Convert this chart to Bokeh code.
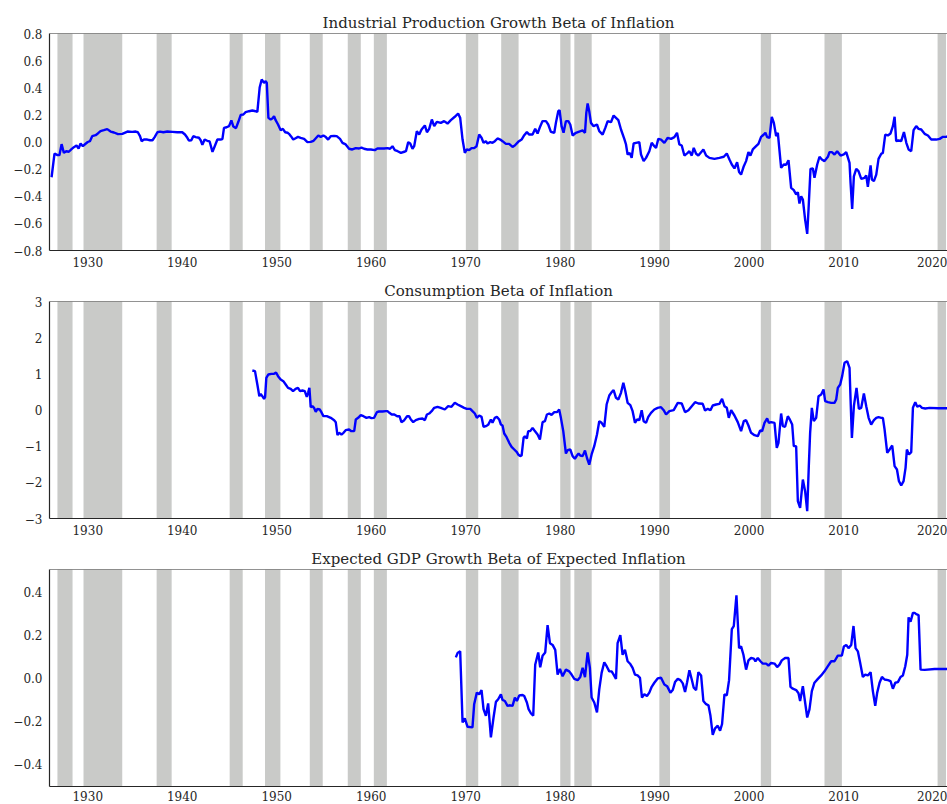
from bokeh.plotting import figure
from bokeh.layouts import column
from bokeh.models import Range1d, FixedTicker, CustomJSTickFormatter, Span
from bokeh.embed import file_html
from bokeh.resources import INLINE

# ---------------- data ----------------
x_lim = [1925.95, 2021.0]
x_ticks = [1930, 1940, 1950, 1960, 1970, 1980, 1990, 2000, 2010, 2020]

rec_start = [1926.79, 1929.55, 1937.29, 1945.02, 1948.76, 1953.50, 1957.52, 1960.28,
             1970.02, 1973.76, 1980.01, 1981.50, 1990.50, 2001.24, 2007.98, 2019.95]
rec_end = [1928.39, 1933.65, 1938.88, 1946.40, 1950.39, 1954.87, 1958.90, 1961.66,
           1971.33, 1975.60, 1981.10, 1983.34, 1991.63, 2002.33, 2009.82, 2020.84]

ip_year = [1926.17, 1926.48, 1926.8, 1927.0, 1927.23, 1927.47, 1927.72, 1928.0, 1928.25, 1928.53,
           1928.81, 1929.03, 1929.24, 1929.48, 1929.77, 1930.0, 1930.23, 1930.47, 1930.83, 1931.07,
           1931.35, 1931.7, 1932.06, 1932.42, 1932.77, 1933.2, 1933.66, 1934.2, 1934.7, 1935.07,
           1935.3, 1935.53, 1935.7, 1935.95, 1936.3, 1936.6, 1936.85, 1937.08, 1937.37, 1937.65,
           1938.0, 1938.42, 1938.95, 1939.48, 1940.0, 1940.29, 1940.54, 1940.7, 1940.96, 1941.17,
           1941.42, 1941.77, 1941.95, 1942.13, 1942.37, 1942.65, 1942.9, 1943.2, 1943.44, 1943.72,
           1944.07, 1944.25, 1944.42, 1944.7, 1944.95, 1945.2, 1945.41, 1945.69, 1945.94, 1946.19,
           1946.47, 1946.71, 1947.07, 1947.42, 1947.77, 1947.95, 1948.2, 1948.41, 1948.66, 1948.83,
           1948.95, 1949.12, 1949.36, 1949.54, 1949.72, 1949.9, 1950.14, 1950.42, 1950.65, 1950.9,
           1951.15, 1951.3, 1951.5, 1951.75, 1952.0, 1952.25, 1952.53, 1952.9, 1953.25, 1953.6,
           1953.9, 1954.14, 1954.4, 1954.66, 1954.94, 1955.2, 1955.44, 1955.72, 1956.07, 1956.35,
           1956.7, 1956.96, 1957.3, 1957.66, 1958.0, 1958.37, 1958.72, 1958.97, 1959.25, 1959.6,
           1959.96, 1960.38, 1960.66, 1961.0, 1961.37, 1961.72, 1962.0, 1962.25, 1962.5, 1962.8,
           1963.15, 1963.5, 1963.68, 1963.92, 1964.13, 1964.37, 1964.55, 1964.83, 1965.08, 1965.33,
           1965.68, 1965.9, 1966.14, 1966.42, 1966.67, 1966.95,
           1967.37, 1967.72, 1968.08, 1968.43, 1968.85, 1969.2, 1969.42, 1969.67, 1969.91, 1970.12,
           1970.37, 1970.62, 1970.9, 1971.15, 1971.43, 1971.68, 1971.89, 1972.14, 1972.31, 1972.6,
           1972.84, 1973.09, 1973.37, 1973.66, 1973.9, 1974.26, 1974.6, 1974.96, 1975.2, 1975.56,
           1975.92, 1976.2, 1976.48, 1976.73, 1977.08, 1977.36, 1977.61, 1977.9, 1978.14, 1978.5,
           1978.74, 1979.02, 1979.38, 1979.55, 1979.8, 1979.94, 1980.15, 1980.36, 1980.61, 1980.86,
           1981.07, 1981.32, 1981.67, 1982.02, 1982.38, 1982.63, 1982.77, 1982.91, 1983.08, 1983.26,
           1983.54, 1983.9, 1984.14, 1984.5, 1984.78, 1985.03, 1985.38, 1985.66, 1985.91, 1986.16,
           1986.44, 1986.79, 1986.97, 1987.14, 1987.36, 1987.57, 1987.78, 1988.03, 1988.38, 1988.56,
           1988.84, 1989.09, 1989.44, 1989.69, 1989.97, 1990.15, 1990.39,
           1990.68, 1991.03, 1991.39, 1991.74, 1992.09, 1992.37, 1992.62, 1992.87, 1993.15, 1993.5,
           1993.68, 1993.93, 1994.14, 1994.39, 1994.63, 1994.92, 1995.16, 1995.45, 1995.8, 1996.33,
           1996.86, 1997.32, 1997.64, 1997.92, 1998.17, 1998.45, 1998.73, 1998.94, 1999.15, 1999.44,
           1999.68, 1999.93, 2000.14, 2000.39, 2000.74, 2000.99, 2001.27, 2001.56, 2001.73, 2001.91,
           2002.16, 2002.4, 2002.62, 2002.86, 2003.04, 2003.39, 2003.67, 2003.92, 2004.17, 2004.45,
           2004.73, 2004.98, 2005.16, 2005.33, 2005.51, 2005.69, 2005.93, 2006.15, 2006.29, 2006.5,
           2006.75, 2006.92, 2007.21, 2007.45, 2007.7, 2007.98, 2008.34, 2008.51, 2008.76, 2009.04,
           2009.32, 2009.68, 2010.03, 2010.28, 2010.63, 2010.74, 2010.91, 2011.09, 2011.34, 2011.58,
           2011.87, 2012.22, 2012.4, 2012.57, 2012.86, 2013.0, 2013.21, 2013.46, 2013.7, 2013.99,
           2014.16, 2014.41, 2014.69, 2014.97, 2015.22, 2015.4, 2015.57, 2015.82, 2016.1, 2016.39,
           2016.64, 2016.88, 2017.16, 2017.41, 2017.69, 2017.94, 2018.22, 2018.58, 2018.93, 2019.28,
           2019.81, 2020.17, 2020.52, 2020.87, 2021.08]
ip_beta = [-0.26, -0.085, -0.097, -0.097, -0.016, -0.08, -0.068, -0.072, -0.055, -0.038,
           -0.026, -0.048, -0.011, -0.031, -0.013, 0.0, 0.006, 0.043, 0.05, 0.063,
           0.08, 0.087, 0.095, 0.077, 0.07, 0.058, 0.06, 0.077, 0.075, 0.077,
           0.072, 0.043, 0.006, 0.018, 0.018, 0.013, 0.013, 0.036, 0.072, 0.077,
           0.072, 0.077, 0.075, 0.072, 0.072, 0.055, 0.031, 0.011, 0.013, 0.043,
           0.036, 0.031, 0.013, -0.021, 0.018, 0.009, 0.004, -0.073, -0.031, 0.018,
           0.018, 0.021, 0.104, 0.109, 0.117, 0.159, 0.114, 0.102, 0.149, 0.2,
           0.203, 0.22, 0.227, 0.232, 0.227, 0.222, 0.404, 0.461, 0.436, 0.449,
           0.436, 0.178, 0.166, 0.173, 0.19, 0.159, 0.129, 0.087, 0.097, 0.072,
           0.068, 0.06, 0.043, 0.018, 0.028, 0.038, 0.031, 0.023, -0.001, 0.001,
           0.009, 0.028, 0.048, 0.038, 0.048, 0.036, 0.018, 0.043, 0.045, 0.043,
           0.023, -0.006, -0.018, -0.05, -0.055, -0.045, -0.048, -0.041, -0.05, -0.055,
           -0.055, -0.06, -0.048, -0.048, -0.048, -0.045, -0.05, -0.031, -0.06, -0.068,
           -0.08, -0.072, -0.068, -0.001, -0.011, -0.05, -0.031, 0.08, 0.055, 0.092,
           0.122, 0.072, 0.097, 0.166, 0.117, 0.149,
           0.141, 0.154, 0.136, 0.161, 0.186, 0.21, 0.178, 0.018, -0.08, -0.055,
           -0.06, -0.045, -0.045, -0.031, 0.055, 0.031, -0.006, 0.006, -0.011, -0.001,
           -0.006, 0.006, 0.026, 0.018, 0.006, -0.014, -0.014, -0.036, -0.026, 0.001,
           0.018, 0.05, 0.073, 0.055, 0.055, 0.097, 0.063, 0.117, 0.154, 0.154,
           0.129, 0.075, 0.068, 0.141, 0.227, 0.235, 0.117, 0.068, 0.154, 0.154,
           0.129, 0.048, 0.068, 0.077, 0.085, 0.068, 0.215, 0.284, 0.227, 0.141,
           0.117, 0.129, 0.08, 0.055, 0.104, 0.154, 0.146, 0.195, 0.178, 0.161,
           0.092, 0.023, -0.018, -0.092, -0.08, -0.117, -0.011, -0.006, -0.001, -0.092,
           -0.141, -0.117, -0.068, -0.006, -0.031, -0.043, 0.023,
           0.018, -0.006, 0.031, 0.023, 0.036, 0.068, -0.018, -0.026, -0.1, -0.08,
           -0.068, -0.1, -0.043, -0.087, -0.1, -0.075, -0.055, -0.1, -0.117, -0.124,
           -0.117, -0.109, -0.085, -0.129, -0.166, -0.195, -0.149, -0.222, -0.24, -0.178,
           -0.141, -0.075, -0.1, -0.055, -0.031, -0.014, 0.038, 0.055, 0.068, 0.036,
           0.031, 0.186, 0.141, 0.043, 0.068, -0.19, -0.166, -0.168, -0.134, -0.338,
           -0.355, -0.387, -0.37, -0.454, -0.4, -0.424, -0.572, -0.677, -0.498, -0.198,
           -0.195, -0.264, -0.166, -0.109, -0.129, -0.141, -0.109, -0.075, -0.075, -0.092,
           -0.068, -0.1, -0.092, -0.075, -0.154, -0.301, -0.493, -0.253, -0.198, -0.215,
           -0.272, -0.264, -0.247, -0.331, -0.173, -0.277, -0.289, -0.24, -0.124, -0.087,
           -0.08, 0.055, 0.048, 0.063, 0.117, 0.186, 0.006, 0.011, 0.006, 0.073,
           -0.006, -0.055, -0.068, 0.087, 0.117, 0.097, 0.092, 0.06, 0.048, 0.018,
           0.018, 0.023, 0.038, 0.038, 0.043]

cons_year = [1947.42, 1947.7, 1947.95, 1948.16, 1948.3, 1948.48, 1948.66, 1948.77, 1948.9, 1949.12,
             1949.43, 1949.72, 1949.93, 1950.14, 1950.42, 1950.7, 1950.95, 1951.2, 1951.48, 1951.73,
             1952.0, 1952.25, 1952.47, 1952.72, 1952.97, 1953.18, 1953.32, 1953.46, 1953.6, 1953.78,
             1953.95, 1954.13, 1954.31, 1954.55, 1954.73, 1954.94, 1955.3, 1955.72, 1956.08, 1956.25,
             1956.43, 1956.6, 1956.85, 1957.07, 1957.3, 1957.66, 1957.9, 1958.2, 1958.37, 1958.62,
             1958.9, 1959.18, 1959.5, 1959.78, 1960.03, 1960.31, 1960.6, 1960.83, 1961.2, 1961.55,
             1961.72, 1961.93, 1962.17, 1962.45, 1962.75, 1963.0, 1963.2, 1963.5, 1963.8, 1964.0,
             1964.2, 1964.45, 1964.72, 1965.08, 1965.43, 1965.68, 1965.9, 1966.14, 1966.4, 1966.67,
             1967.02,
             1967.37, 1967.79, 1968.15, 1968.5, 1968.85, 1969.14, 1969.49, 1969.84, 1970.12, 1970.48,
             1970.72, 1970.97, 1971.18, 1971.43, 1971.68, 1971.89, 1972.14, 1972.38, 1972.67, 1972.84,
             1973.09, 1973.3, 1973.55, 1973.73, 1973.9, 1974.08, 1974.33, 1974.61, 1974.86, 1975.14,
             1975.42, 1975.56, 1975.77, 1975.92, 1976.13, 1976.27, 1976.48, 1976.62, 1976.83, 1977.08,
             1977.26, 1977.61, 1977.86, 1978.14, 1978.39, 1978.6, 1978.85, 1979.09, 1979.38, 1979.66,
             1979.9, 1980.08, 1980.33, 1980.61, 1980.79, 1981.07, 1981.32, 1981.56, 1981.78, 1981.95,
             1982.13, 1982.38, 1982.63, 1982.84, 1983.08, 1983.33, 1983.61, 1983.9, 1984.14, 1984.39,
             1984.67, 1984.92, 1985.2, 1985.45, 1985.66, 1985.91, 1986.16, 1986.44, 1986.69, 1986.9,
             1987.14, 1987.43, 1987.67, 1987.92, 1988.13, 1988.38, 1988.63, 1988.84, 1989.09, 1989.33,
             1989.62, 1989.97, 1990.32,
             1990.68, 1990.96, 1991.21, 1991.56, 1992.02, 1992.45, 1992.87, 1993.22, 1993.58, 1993.93,
             1994.28, 1994.63, 1995.09, 1995.34, 1995.62, 1995.91, 1996.15, 1996.51, 1996.86, 1997.14,
             1997.39, 1997.64, 1997.85, 1998.1, 1998.45, 1998.8, 1999.15, 1999.44, 1999.68, 1999.93,
             2000.21, 2000.57, 2000.92, 2001.17, 2001.38, 2001.63, 2001.91, 2002.09, 2002.33, 2002.69,
             2002.93, 2003.11, 2003.39, 2003.57, 2003.81, 2004.1, 2004.27, 2004.56, 2004.73, 2004.98,
             2005.16, 2005.4, 2005.69, 2005.93, 2006.15, 2006.32, 2006.46, 2006.64, 2006.85, 2007.1,
             2007.35, 2007.63, 2007.88, 2008.05, 2008.34, 2008.69, 2009.04, 2009.22, 2009.39, 2009.64,
             2009.85, 2010.1, 2010.38, 2010.63, 2010.74, 2010.88, 2011.09, 2011.37, 2011.62, 2011.87,
             2012.15, 2012.4, 2012.65, 2012.92, 2013.21, 2013.46, 2013.7, 2013.99, 2014.16, 2014.34,
             2014.62, 2014.87, 2015.15, 2015.4, 2015.65, 2015.86, 2016.1, 2016.35, 2016.56, 2016.7,
             2016.92, 2017.16, 2017.34, 2017.59, 2017.8, 2018.05, 2018.3, 2018.65, 2019.1, 2020.0,
             2021.08]
cons_beta = [1.092, 1.074, 0.705, 0.382, 0.447, 0.382, 0.309, 0.355, 0.889, 0.982,
             1.0, 1.0, 1.037, 0.935, 0.843, 0.797, 0.705, 0.613, 0.585, 0.52,
             0.585, 0.613, 0.52, 0.539, 0.52, 0.364, 0.475, 0.613, 0.078, 0.106,
             0.06, -0.05, 0.032, 0.014, -0.06, -0.17, -0.17, -0.217, -0.281, -0.336,
             -0.696, -0.631, -0.677, -0.631, -0.558, -0.539, -0.585, -0.585, -0.263, -0.217,
             -0.143, -0.171, -0.217, -0.198, -0.226, -0.217, -0.06, -0.041, -0.041, -0.032,
             -0.032, -0.078, -0.124, -0.124, -0.171, -0.171, -0.336, -0.281, -0.171, -0.171,
             -0.263, -0.336, -0.281, -0.244, -0.235, -0.281, -0.124, -0.097, -0.032, 0.06,
             0.088,
             0.06, 0.014, 0.106, 0.088, 0.198, 0.152, 0.106, 0.06, 0.032, 0.032,
             -0.032, -0.097, -0.217, -0.152, -0.189, -0.465, -0.447, -0.41, -0.263, -0.355,
             -0.217, -0.189, -0.263, -0.401, -0.429, -0.65, -0.751, -0.908, -1.018, -1.092,
             -1.166, -1.23, -1.276, -1.258, -0.77, -0.724, -0.788, -0.585, -0.585, -0.493,
             -0.558, -0.677, -0.816, -0.336, -0.309, -0.124, -0.097, -0.134, -0.06, -0.06,
             0.014, -0.217, -0.585, -1.203, -1.111, -1.092, -1.276, -1.35, -1.258, -1.203,
             -1.258, -1.276, -1.12, -1.327, -1.51, -1.23, -1.0, -0.677, -0.309, -0.355,
             -0.465, 0.152, 0.401, 0.493, 0.548, 0.336, 0.29, 0.475, 0.751, 0.521,
             0.198, 0.134, -0.032, -0.355, -0.263, -0.281, -0.005, -0.309, -0.355, -0.189,
             -0.078, 0.014, 0.06,
             0.078, -0.005, -0.124, -0.032, -0.005, 0.198, 0.18, -0.06, -0.005, 0.106,
             0.217, 0.18, 0.171, -0.014, 0.032, -0.005, 0.124, 0.152, 0.171, 0.309,
             0.106, 0.06, -0.217, -0.005, -0.152, -0.336, -0.585, -0.309, -0.281, -0.429,
             -0.631, -0.696, -0.724, -0.567, -0.585, -0.355, -0.235, -0.355, -0.336, -0.355,
             -1.046, -0.908, -0.097, -0.447, -0.465, -0.171, -0.244, -0.401, -1.0, -1.0,
             -2.521, -2.705, -1.922, -2.244, -2.797, -1.553, -0.631, 0.06, -0.309, -0.217,
             0.382, 0.429, 0.567, 0.244, 0.217, 0.198, 0.198, 0.29, 0.613, 0.705,
             0.936, 1.304, 1.35, 1.166, 0.29, -0.77, 0.106, 0.613, 0.032, 0.06,
             0.456, 0.106, -0.217, -0.401, -0.281, -0.217, -0.198, -0.217, -0.217, -0.539,
             -1.184, -1.092, -0.982, -1.553, -1.645, -1.968, -2.088, -1.968, -1.599, -1.092,
             -1.23, -1.166, 0.06, 0.217, 0.088, 0.124, 0.06, 0.041, 0.06, 0.05,
             0.05]

gdp_year = [1968.96, 1969.14, 1969.42, 1969.67, 1969.91, 1970.2, 1970.72, 1970.9, 1971.18, 1971.43,
            1971.68, 1971.89, 1972.14, 1972.38, 1972.67, 1972.95, 1973.2, 1973.44, 1973.73, 1973.9,
            1974.15, 1974.43, 1974.71, 1974.96, 1975.21, 1975.42, 1975.67, 1976.02, 1976.2, 1976.48,
            1976.66, 1976.9, 1977.15, 1977.36, 1977.68, 1977.89, 1978.14, 1978.42, 1978.67, 1978.92,
            1979.2, 1979.48, 1979.73, 1979.98, 1980.26, 1980.61, 1980.96, 1981.21, 1981.5, 1981.85,
            1982.13, 1982.38, 1982.63, 1982.91, 1983.15, 1983.33, 1983.61, 1983.9, 1984.14, 1984.39,
            1984.67, 1984.92, 1985.2, 1985.45, 1985.66, 1985.91, 1986.08, 1986.37, 1986.61, 1986.86,
            1987.14, 1987.43, 1987.67, 1987.92, 1988.2, 1988.45, 1988.66, 1988.91, 1989.19, 1989.44,
            1989.69, 1989.97, 1990.32,
            1990.68, 1991.03, 1991.32, 1991.67, 1991.92, 1992.16, 1992.45, 1992.73, 1992.98, 1993.22,
            1993.43, 1993.68, 1993.93, 1994.14, 1994.39, 1994.63, 1994.92, 1995.16, 1995.45, 1995.7,
            1995.91, 1996.15, 1996.4, 1996.68, 1996.93, 1997.14, 1997.39, 1997.64, 1997.88, 1998.17,
            1998.38, 1998.66, 1998.8, 1998.94, 1999.15, 1999.4, 1999.68, 1999.93, 2000.21, 2000.5,
            2000.67, 2000.92, 2001.2, 2001.45, 2001.8, 2002.05, 2002.33, 2002.69, 2002.97, 2003.22,
            2003.46, 2003.81, 2004.17, 2004.38, 2004.63, 2004.98, 2005.23, 2005.4, 2005.69, 2005.93,
            2006.15, 2006.39, 2006.64, 2006.92, 2007.28, 2007.63, 2007.98, 2008.34, 2008.69, 2009.04,
            2009.39, 2009.82, 2010.03, 2010.28, 2010.52, 2010.81, 2011.05, 2011.27, 2011.51, 2011.76,
            2012.04, 2012.29, 2012.57, 2012.86, 2013.1, 2013.35, 2013.56, 2013.81, 2014.06, 2014.34,
            2014.69, 2014.97, 2015.22, 2015.47, 2015.75, 2016.03, 2016.28, 2016.53, 2016.74, 2016.88,
            2017.09, 2017.34, 2017.52, 2017.69, 2017.94, 2018.15, 2018.58, 2019.64, 2021.08]
gdp_beta = [0.096, 0.116, 0.124, -0.207, -0.188, -0.227, -0.23, -0.122, -0.068, -0.076,
            -0.056, -0.145, -0.176, -0.118, -0.276, -0.184, -0.111, -0.099, -0.076, -0.102,
            -0.107, -0.13, -0.127, -0.13, -0.091, -0.107, -0.081, -0.079, -0.084, -0.114,
            -0.145, -0.164, -0.176, 0.062, 0.119, 0.05, 0.104, 0.119, 0.246, 0.162,
            0.154, 0.131, 0.016, 0.042, 0.008, 0.039, 0.031, 0.016, -0.004, -0.01,
            0.005, 0.047, 0.004, 0.119, 0.047, -0.091, -0.114, -0.16, -0.053, 0.024,
            0.073, 0.055, 0.031, 0.031, 0.016, -0.004, 0.162, 0.2, 0.108, 0.131,
            0.078, 0.065, 0.047, 0.016, 0.012, 0.001, -0.091, -0.076, -0.084, -0.068,
            -0.041, -0.022, -0.002,
            0.001, -0.03, -0.038, -0.068, -0.056, -0.019, -0.004, -0.01, -0.025, -0.065,
            -0.022, 0.036, -0.007, -0.045, -0.056, 0.027, 0.012, -0.107, -0.122, -0.127,
            -0.176, -0.265, -0.234, -0.222, -0.245, -0.214, -0.076, -0.081, -0.01, 0.227,
            0.242, 0.385, 0.262, 0.139, 0.147, 0.108, 0.039, 0.082, 0.093, 0.09,
            0.078, 0.093, 0.078, 0.067, 0.067, 0.058, 0.07, 0.067, 0.051, 0.062,
            0.082, 0.093, 0.093, -0.041, -0.05, -0.056, -0.071, -0.107, -0.038, -0.114,
            -0.184, -0.146, -0.061, -0.022, -0.004, 0.012, 0.031, 0.055, 0.078, 0.078,
            0.104, 0.105, 0.147, 0.154, 0.139, 0.154, 0.242, 0.139, 0.124, 0.07,
            0.005, 0.016, 0.012, 0.027, -0.061, -0.13, -0.068, -0.022, 0.005, -0.007,
            -0.01, -0.015, -0.05, -0.022, -0.019, 0.005, 0.012, 0.055, 0.108, 0.282,
            0.262, 0.303, 0.303, 0.297, 0.293, 0.039, 0.038, 0.042, 0.042]

panel_titles = ["Industrial Production Growth Beta of Inflation",
                "Consumption Beta of Inflation",
                "Expected GDP Growth Beta of Expected Inflation"]
ip_ylim = [-0.8, 0.8]
ip_ticks = [-0.8, -0.6, -0.4, -0.2, 0.0, 0.2, 0.4, 0.6, 0.8]
cons_ylim = [-3.0, 3.0]
cons_ticks = [-3, -2, -1, 0, 1, 2, 3]
gdp_ylim = [-0.505, 0.505]
gdp_ticks = [-0.4, -0.2, 0.0, 0.2, 0.4]

for a, b in ((ip_year, ip_beta), (cons_year, cons_beta), (gdp_year, gdp_beta)):
    assert len(a) == len(b), (len(a), len(b))

# ---------------- style ----------------
FONT = "DejaVu Serif"
TXT = "#262626"
BAND = "#c9cac8"
LINE = "#0000ff"


def make_panel(title, xs, ys, ylim, yticks, digits, height, top_border, bottom_border, xstandoff):
    p = figure(width=947, height=height, output_backend="svg", toolbar_location=None,
               x_range=Range1d(*x_lim), y_range=Range1d(*ylim),
               min_border_left=49, min_border_right=0, min_border_top=top_border,
               min_border_bottom=bottom_border)
    p.title.text = title
    p.title.align = "center"
    p.title.text_font = FONT
    p.title.text_font_size = "15px"
    p.title.text_font_style = "normal"
    p.title.text_color = TXT
    p.title.standoff = 4
    p.title.offset = 8
    p.outline_line_color = None
    p.background_fill_color = "white"
    p.border_fill_color = "white"
    p.xgrid.visible = False
    p.ygrid.visible = False

    p.quad(left=rec_start, right=rec_end, bottom=ylim[0], top=ylim[1],
           fill_color=BAND, line_color=None)
    p.line(xs, ys, line_color=LINE, line_width=2.4)

    p.add_layout(Span(location=ylim[1], dimension="width", line_color=TXT, line_width=1.2))

    for ax in (p.xaxis[0], p.yaxis[0]):
        ax.axis_line_color = TXT
        ax.axis_line_width = 1.2
        ax.major_tick_line_color = None
        ax.minor_tick_line_color = None
        ax.major_tick_out = 0
        ax.major_tick_in = 0
        ax.minor_tick_out = 0
        ax.major_label_text_font = FONT
        ax.major_label_text_font_size = "12px"
        ax.major_label_text_color = TXT
    p.xaxis.major_label_standoff = xstandoff
    p.yaxis.major_label_standoff = 7
    p.xaxis.ticker = FixedTicker(ticks=x_ticks)
    p.yaxis.ticker = FixedTicker(ticks=yticks)
    p.yaxis.formatter = CustomJSTickFormatter(
        args=dict(d=digits),
        code="const v = Math.abs(tick) < 1e-9 ? 0 : tick; return v.toFixed(d).replace('-', '\u2212');")
    return p


p1 = make_panel(panel_titles[0], ip_year, ip_beta, ip_ylim, ip_ticks, 1, 275, 33, 25, 6)
p2 = make_panel(panel_titles[1], cons_year, cons_beta, cons_ylim, cons_ticks, 0, 268, 26, 25, 6)
p3 = make_panel(panel_titles[2], gdp_year, gdp_beta, gdp_ylim, gdp_ticks, 1, 261, 26, 18, 4)

layout = column(p1, p2, p3, spacing=0)
open("out.html", "w").write(file_html(layout, INLINE))
